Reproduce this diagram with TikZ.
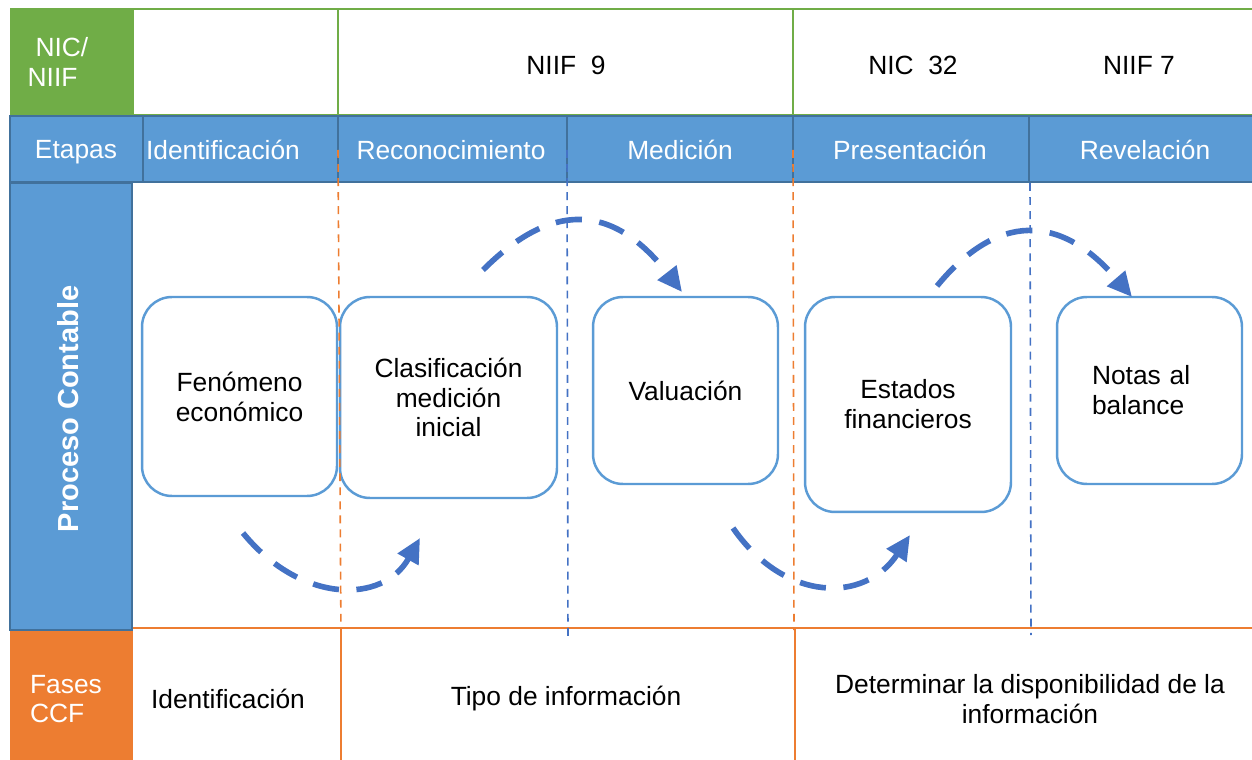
\documentclass[tikz,border=0pt]{standalone}
\usepackage{fontspec}
\setmainfont{Liberation Sans}
\usetikzlibrary{arrows.meta,positioning}
\definecolor{normgreen}{HTML}{70AD47}
\definecolor{stageblue}{HTML}{5B9BD5}
\definecolor{stageedge}{HTML}{41719C}
\definecolor{phaseorange}{HTML}{ED7D31}
\definecolor{flowblue}{HTML}{4472C4}

\begin{document}
\begin{tikzpicture}[
    x=0.02cm, y=-0.02cm,
    every node/.style={font=\fontsize{15}{17}\selectfont},
    cellhead/.style={fill=stageblue, draw=stageedge, line width=1.5pt},
    normcell/.style={draw=normgreen, line width=1.2pt},
    whitetext/.style={text=white, align=center},
    procbox/.style={draw=stageblue, fill=white, line width=1.4pt, rounded corners=17pt, align=center, inner sep=2pt},
    flowarrow/.style={draw=flowblue, line width=3.2pt, dash pattern=on 15pt off 10pt, -{Triangle[length=14pt, width=13pt]}},
    cutline/.style={line width=0.9pt, dash pattern=on 4.5pt off 3.5pt},
    phaseline/.style={draw=phaseorange, line width=1.5pt},
  ]
  \useasboundingbox (0,0) rectangle (1252,760);

  % NIC/NIIF row
  \fill[normgreen] (10,9) rectangle (133,115);
  \draw[normcell] (10,9) -- (1252,9);
  \draw[normcell] (133,115) -- (1252,115);
  \draw[normcell] (133,9) -- (133,115) (338,9) -- (338,115) (793,9) -- (793,115);
  \node[whitetext, align=left] (nic) at (58,62) {\hspace{4.5pt}NIC/\\NIIF};
  \node (niif9) at (566,65) {NIIF\ \ 9};
  \node (nic32) at (913,65) {NIC\ \ 32};
  \node (niif7) at (1139,65) {NIIF 7};

  % Etapas row
  \foreach \xa/\xb in {10/143, 143/338, 338/567, 567/793, 793/1029, 1029/1262}
    \draw[cellhead] (\xa,116) rectangle (\xb,182);
  \node[whitetext] (etapas) at (76,152) {Etapas};
  \node[whitetext] (identif) at (223,150) {Identificación};
  \node[whitetext] (reconoc) at (451,150) {Reconocimiento};
  \node[whitetext] (medicion) at (680,150) {Medición};
  \node[whitetext] (present) at (910,150) {Presentación};
  \node[whitetext] (revela) at (1145,150) {Revelación};

  % Proceso contable column
  \draw[cellhead] (10,183) rectangle (132,630);
  \node[whitetext, rotate=90, font=\fontsize{16.5}{18}\selectfont\bfseries] (proceso) at (68,409) {Proceso Contable};

  % Fases CCF row
  \fill[phaseorange] (10,631) rectangle (133,760);
  \node[whitetext, align=left] (fases) at (66,699) {Fases\\CCF};
  \node (faseident) at (228,699) {Identificación};
  \node (tipo) at (566,699) {Tipo\ de información};
  \node[align=center] (determ) at (1030,699) {Determinar\ la disponibilidad\ de la\\información};
  \draw[phaseline] (133,628) -- (1262,628);
  \draw[phaseline] (341,628) -- (341,760);
  \draw[phaseline] (795,628) -- (795,760);

  % Process boxes
  \node[procbox, minimum width=3.9cm, minimum height=3.98cm] (fenomeno) at (239.5,396.5) {Fenómeno\\económico};
  \node[procbox, minimum width=4.34cm, minimum height=4.02cm] (clasif) at (448.5,397.5) {Clasificación\\medición\\inicial};
  \node[procbox, minimum width=3.7cm, minimum height=3.74cm] (valuacion) at (685.5,390.5) {Valuación};
  \node[procbox, minimum width=4.12cm, minimum height=4.3cm] (estados) at (908,404.5) {Estados\\financieros};
  \node[procbox, minimum width=3.7cm, minimum height=3.74cm, text width=2.3cm, align=left] (notas) at (1149.5,390.5) {Notas\ al\\balance};

  % Stage separators
  \draw[cutline, phaseorange] (338,150) -- (341,640);
  \draw[cutline, flowblue] (567,150) -- (568,640);
  \draw[cutline, phaseorange] (793,150) -- (794,630);
  \draw[cutline, flowblue] (1030,183) -- (1031,635);

  % Flow arrows
  \coordinate (fa1) at (243,533);
  \coordinate (fa2) at (420,538);
  \coordinate (fb1) at (483,270);
  \coordinate (fb2) at (682,292);
  \coordinate (fc1) at (733,528);
  \coordinate (fc2) at (910,535);
  \coordinate (fd1) at (937,286);
  \coordinate (fd2) at (1132,297);
  \draw[flowarrow] (fa1) .. controls (301,604) and (383,604) .. (fa2);
  \draw[flowarrow] (fb1) .. controls (551,202) and (612,202) .. (fb2);
  \draw[flowarrow] (fc1) .. controls (785,603) and (865,603) .. (fc2);
  \draw[flowarrow] (fd1) .. controls (997,213) and (1060,213) .. (fd2);
\end{tikzpicture}
\end{document}
